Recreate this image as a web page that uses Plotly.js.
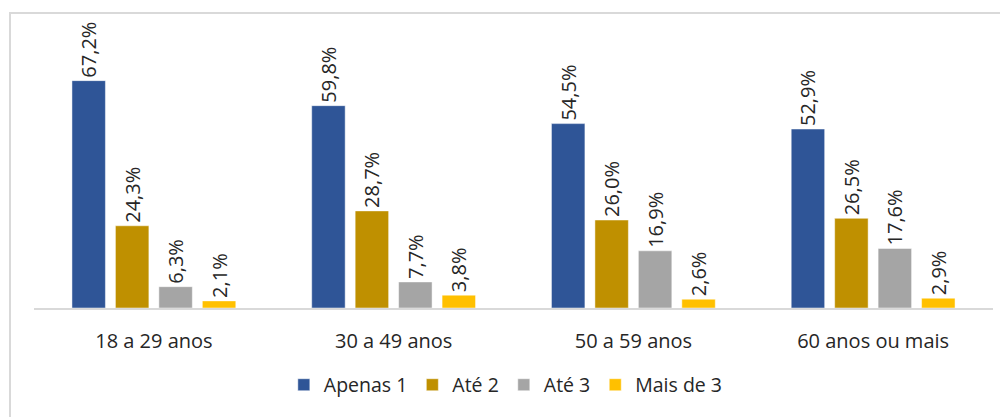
<!DOCTYPE html>
<html>
<head>
<meta charset="utf-8">
<script src="https://cdn.plot.ly/plotly-3.0.1.min.js"></script>
<style>
html,body{margin:0;padding:0;background:#fff;overflow:hidden;width:1000px;height:417px;}
#chart{width:1000px;height:417px;position:absolute;left:0;top:0;}
#frame{position:absolute;left:9px;top:12px;width:1100px;height:600px;border:2px solid #D9D9D9;pointer-events:none;box-sizing:border-box;}
</style>
</head>
<body>
<div id="chart"></div>
<div id="frame"></div>
<script>
const categories = ['18 a 29 anos', '30 a 49 anos', '50 a 59 anos', '60 anos ou mais'];
const seriesNames = ['Apenas 1', 'Até 2', 'Até 3', 'Mais de 3'];
const apenas1 = [67.2, 59.8, 54.5, 52.9];
const ate2 = [24.3, 28.7, 26.0, 26.5];
const ate3 = [6.3, 7.7, 16.9, 17.6];
const maisDe3 = [2.1, 3.8, 2.6, 2.9];
const colors = ['#2F5597', '#BF9000', '#A5A5A5', '#FFC000'];

const allSeries = [apenas1, ate2, ate3, maisDe3];
const fmt = v => v.toFixed(1).replace('.', ',') + '%';

const traces = allSeries.map((vals, i) => ({
  type: 'bar',
  name: seriesNames[i],
  x: categories,
  y: vals,
  text: vals.map(fmt),
  textposition: 'outside',
  textangle: -90,
  constraintext: 'none',
  cliponaxis: false,
  textfont: {family: 'Open Sans, sans-serif', size: 20, color: '#262626'},
  marker: {color: colors[i], line: {color: 'rgba(255,255,255,0.6)', width: 0.8}},
  hoverinfo: 'none'
}));

const layout = {
  width: 1000,
  height: 417,
  margin: {l: 34, r: 7, t: 15, b: 109},
  paper_bgcolor: '#ffffff',
  plot_bgcolor: '#ffffff',
  barmode: 'group',
  bargap: 0.275,
  bargroupgap: 0.23,
  showlegend: true,
  font: {family: 'Open Sans, sans-serif', color: '#262626'},
  xaxis: {
    showline: true,
    linecolor: '#D9D9D9',
    linewidth: 2,
    showgrid: false,
    zeroline: false,
    ticks: '',
    ticklabelstandoff: 14,
    tickfont: {family: 'Open Sans, sans-serif', size: 20, color: '#262626'},
    fixedrange: true
  },
  yaxis: {
    range: [0, 86.6],
    visible: false,
    showgrid: false,
    zeroline: false,
    fixedrange: true
  },
  legend: {
    orientation: 'h',
    x: 0.492,
    xanchor: 'center',
    y: -0.263,
    yanchor: 'middle',
    font: {family: 'Open Sans, sans-serif', size: 19.5, color: '#262626'},
    traceorder: 'normal',
    itemwidth: 30
  }
};

Plotly.newPlot('chart', traces, layout, {displayModeBar: false, staticPlot: true});
</script>
</body>
</html>
